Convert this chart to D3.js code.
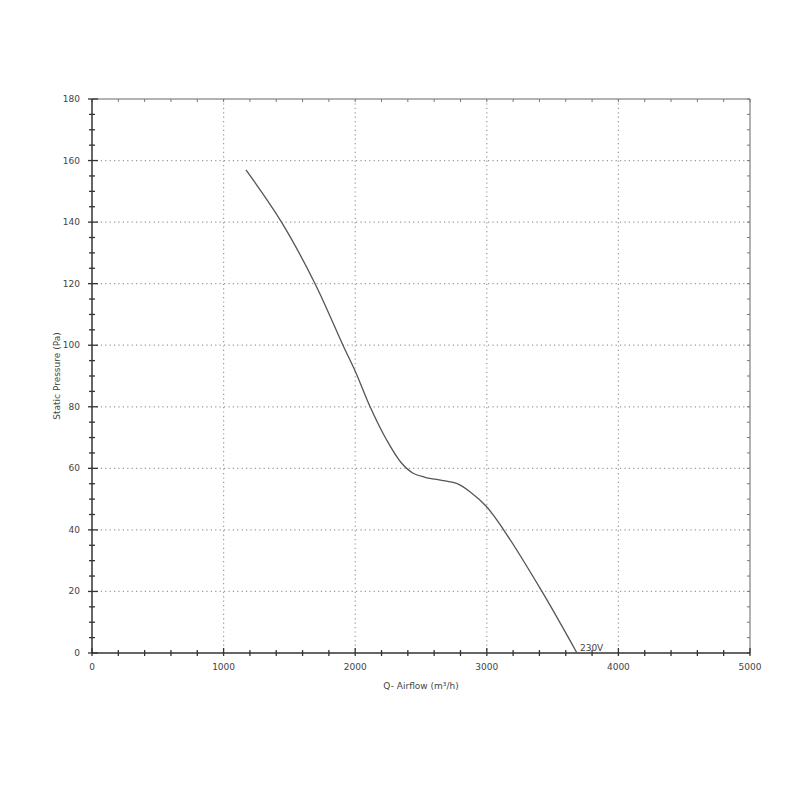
<!DOCTYPE html>
<html><head><meta charset="utf-8">
<script src="https://cdn.jsdelivr.net/npm/d3@7"></script>
<style>body{margin:0;background:#fff}svg{display:block}text{font-family:"DejaVu Sans",sans-serif}</style>
</head><body>
<script>
const airflow = [1170,1440,1695,1907,2006,2113,2239,2350,2440,2530,2669,2771,2872,2999,3125,3419,3685];
const pressure = [157,140,120,100,91,80,69.2,61.8,58.4,57.1,56,55.1,52.4,47.5,40.2,20,0];
const xTicks = [0,1000,2000,3000,4000,5000];
const yTicks = [0,20,40,60,80,100,120,140,160,180];
const seriesLabel = "230V";
const xTitle = "Q- Airflow (m³/h)";
const yTitle = "Static Pressure (Pa)";

const W=800,H=800, L=92, R=750, T=99, B=653;
const svg=d3.select("body").append("svg").attr("width",W).attr("height",H);
const x=d3.scaleLinear().domain([0,5000]).range([L,R]);
const y=d3.scaleLinear().domain([0,180]).range([B,T]);

// grid
const g=svg.append("g");
g.selectAll(".gx").data(xTicks.filter(d=>d>0&&d<5000)).join("line")
 .attr("x1",d=>x(d)).attr("x2",d=>x(d)).attr("y1",T).attr("y2",B)
 .attr("stroke","#999").attr("stroke-width",1.2).attr("stroke-dasharray","1.2,3.2");
g.selectAll(".gy").data(yTicks.filter(d=>d>0&&d<180)).join("line")
 .attr("y1",d=>y(d)).attr("y2",d=>y(d)).attr("x1",L).attr("x2",R)
 .attr("stroke","#999").attr("stroke-width",1.2).attr("stroke-dasharray","1.2,3.2");

// top & right border
svg.append("line").attr("x1",L).attr("x2",R).attr("y1",T).attr("y2",T).attr("stroke","#999").attr("stroke-width",1.5);
svg.append("line").attr("x1",R).attr("x2",R).attr("y1",T).attr("y2",B).attr("stroke","#999").attr("stroke-width",1.5);
const xMinor=d3.range(0,5001,200), yMinor=d3.range(0,181,5);
svg.selectAll(".tt").data(xMinor).join("line").attr("x1",d=>x(d)).attr("x2",d=>x(d)).attr("y1",T).attr("y2",T+3).attr("stroke","#777").attr("stroke-width",1);
svg.selectAll(".rt").data(yMinor).join("line").attr("y1",d=>y(d)).attr("y2",d=>y(d)).attr("x1",R-3).attr("x2",R).attr("stroke","#777").attr("stroke-width",1);

// bottom & left axes
const ax=svg.append("g").attr("stroke","#333");
ax.append("line").attr("x1",L).attr("x2",R).attr("y1",B).attr("y2",B).attr("stroke-width",1.5);
ax.append("line").attr("x1",L).attr("x2",L).attr("y1",T).attr("y2",B).attr("stroke-width",1.5);
ax.selectAll(".bx").data(xMinor).join("line").attr("x1",d=>x(d)).attr("x2",d=>x(d))
 .attr("y1",d=>d%1000===0?B-5:B-3).attr("y2",B+3).attr("stroke-width",1.3);
ax.selectAll(".ly").data(yMinor).join("line").attr("y1",d=>y(d)).attr("y2",d=>y(d))
 .attr("x1",d=>d%20===0?L-4:L-3).attr("x2",d=>d%20===0?L+6:L+3).attr("stroke-width",1.3);

svg.selectAll(".xl").data(xTicks).join("text").attr("x",d=>x(d)).attr("y",B+17)
 .attr("text-anchor","middle").attr("font-size",9).attr("fill","#444").text(d=>d);
svg.selectAll(".yl").data(yTicks).join("text").attr("x",L-12).attr("y",d=>y(d)+3)
 .attr("text-anchor","end").attr("font-size",9).attr("fill","#444").text(d=>d);

svg.append("text").attr("x",(L+R)/2).attr("y",689).attr("text-anchor","middle").attr("font-size",9).attr("fill","#444").text(xTitle);
svg.append("text").attr("transform",`translate(60,${(T+B)/2}) rotate(-90)`).attr("text-anchor","middle").attr("font-size",9).attr("fill","#444").text(yTitle);

const data=airflow.map((d,i)=>[d,pressure[i]]);
svg.append("path").datum(data).attr("fill","none").attr("stroke","#555").attr("stroke-width",1.3)
 .attr("d",d3.line().x(d=>x(d[0])).y(d=>y(d[1])).curve(d3.curveCatmullRom.alpha(0.5)));
const last=data[data.length-1];
svg.append("text").attr("x",x(last[0])+3).attr("y",y(last[1])-2).attr("font-size",9).attr("fill","#444").text(seriesLabel);
</script>
</body></html>
